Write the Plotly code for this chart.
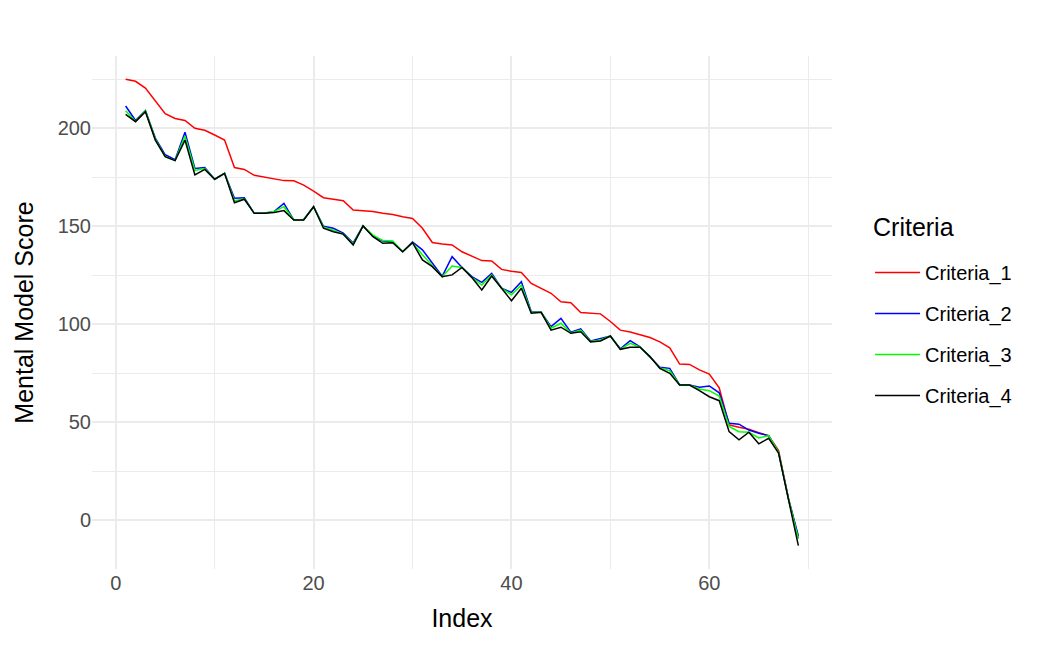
import plotly.graph_objects as go

index = list(range(1, 70))

criteria_1 = [225, 224, 220.5, 214, 207.5, 205, 204, 200, 199, 196.6,
              194, 180, 179, 176, 175, 174, 173.3, 173.2, 171, 168,
              164.6, 163.8, 163, 158.3, 158, 157.5, 156.6, 156, 154.9, 154,
              149, 141.7, 141, 140.5, 137, 134.8, 132.5, 132.3, 128, 127,
              126.4, 120.8, 118.3, 115.8, 111.5, 111, 106, 105.7, 105.3, 101.4,
              97, 96, 94.5, 93.2, 91, 88, 79.7, 79.5, 76.7, 74.6,
              67.5, 48.6, 47.4, 46.4, 44.7, 43, 35.5, 11, -9]

criteria_2 = [211.4, 204, 209, 195, 186.5, 184, 198, 179.5, 180, 174,
              177, 164.3, 164.5, 156.6, 156.6, 157.5, 161.7, 153.2, 153.5, 160,
              150, 149, 146.5, 141.5, 150.2, 145, 142.5, 142, 137, 142,
              138, 131.5, 124.5, 134.5, 129, 124.3, 121.4, 126, 118.4, 116.3,
              121.7, 106.4, 106.1, 98.8, 103, 96, 97.6, 91.5, 92.8, 94,
              87.5, 91.6, 88.5, 83.5, 78, 77.5, 69, 69, 67.9, 68.5,
              65, 49.5, 49, 46, 44.4, 43.2, 34.5, 11, -8]

criteria_3 = [209, 203.5, 209, 194.5, 185.5, 183.5, 196, 178.5, 179.5, 174,
              177, 163, 164, 156.6, 156.6, 157.5, 160, 153.2, 153.5, 160,
              149.5, 148, 146, 141, 150.2, 145.5, 142.7, 142.5, 137, 141.6,
              135.5, 130, 124.3, 129.7, 129, 124, 120, 125.2, 118.4, 115,
              120, 106, 106.1, 98, 100.5, 95.5, 97, 91.2, 92, 94,
              87.2, 90.3, 88.3, 83.5, 77.7, 76.3, 69, 69, 67, 66.1,
              63.4, 47.8, 45.2, 44.9, 42, 43.2, 34.5, 11, -9.5]

criteria_4 = [207.1, 203.4, 208.5, 194, 185.5, 183.5, 194, 176.2, 179, 174,
              177, 162, 163.8, 156.6, 156.6, 157, 158, 153.2, 153.2, 160,
              149, 147.2, 146, 140.5, 150.2, 144.7, 141.3, 141.6, 137, 141.6,
              132.8, 129.4, 124.3, 125.2, 129, 123.8, 117.5, 124.6, 118.4, 112,
              118.4, 105.6, 106.1, 97, 98.5, 95.4, 96.2, 91, 91.5, 94,
              87.2, 88.3, 88.3, 83.5, 77.5, 75, 69, 69, 66.1, 63,
              61, 45.2, 41, 44.9, 39, 41.8, 34.2, 11, -13]

series_names = ["Criteria_1", "Criteria_2", "Criteria_3", "Criteria_4"]
series_values = [criteria_1, criteria_2, criteria_3, criteria_4]
series_colors = ["#FF0000", "#0000FF", "#00FF00", "#000000"]

x_ticks = [0, 20, 40, 60]
x_minor = [10, 30, 50, 70]
y_ticks = [0, 50, 100, 150, 200]
y_minor = [25, 75, 125, 175, 225]

FONT = "Liberation Sans, Arial, sans-serif"

fig = go.Figure()
for name, vals, col in zip(series_names, series_values, series_colors):
    fig.add_trace(go.Scatter(
        x=index, y=vals, mode="lines", name=name, legendgroup=name,
        line=dict(color=col, width=1.5),
    ))

grid = "#EBEBEB"
fig.update_layout(
    width=1045, height=646,
    margin=dict(l=84, r=221, t=48, b=85, autoexpand=False),
    plot_bgcolor="white", paper_bgcolor="white",
    font=dict(family=FONT, color="black"),
    showlegend=True,
    legend=dict(
        font=dict(size=20, color="black"),
        x=1.0514, xanchor="left", y=0.616, yanchor="top",
        tracegroupgap=12, itemwidth=45, bgcolor="rgba(0,0,0,0)",
    ),
    annotations=[dict(
        text="Criteria", xref="paper", yref="paper", x=1.0527, y=0.6667,
        xanchor="left", yanchor="middle", showarrow=False,
        font=dict(size=25, color="black", family=FONT),
    )],
    xaxis=dict(
        range=[-2.4, 72.4], tickvals=x_ticks, ticktext=[str(v) for v in x_ticks],
        showgrid=True, gridcolor=grid, gridwidth=1.8,
        zeroline=False, showline=False, ticks="",
        tickfont=dict(size=20, color="#4D4D4D", family=FONT),
        minor=dict(tickvals=x_minor, showgrid=True, gridcolor=grid, gridwidth=0.9),
        title=dict(text="Index", font=dict(size=25, color="black", family=FONT), standoff=16),
    ),
    yaxis=dict(
        range=[-24.9, 236.9], tickvals=y_ticks, ticktext=[str(v) for v in y_ticks],
        showgrid=True, gridcolor=grid, gridwidth=1.8,
        zeroline=False, showline=False, ticks="",
        tickfont=dict(size=20, color="#4D4D4D", family=FONT),
        minor=dict(tickvals=y_minor, showgrid=True, gridcolor=grid, gridwidth=0.9),
        title=dict(text="Mental Model Score", font=dict(size=25, color="black", family=FONT), standoff=16),
    ),
)

fig.write_html("out.html")
